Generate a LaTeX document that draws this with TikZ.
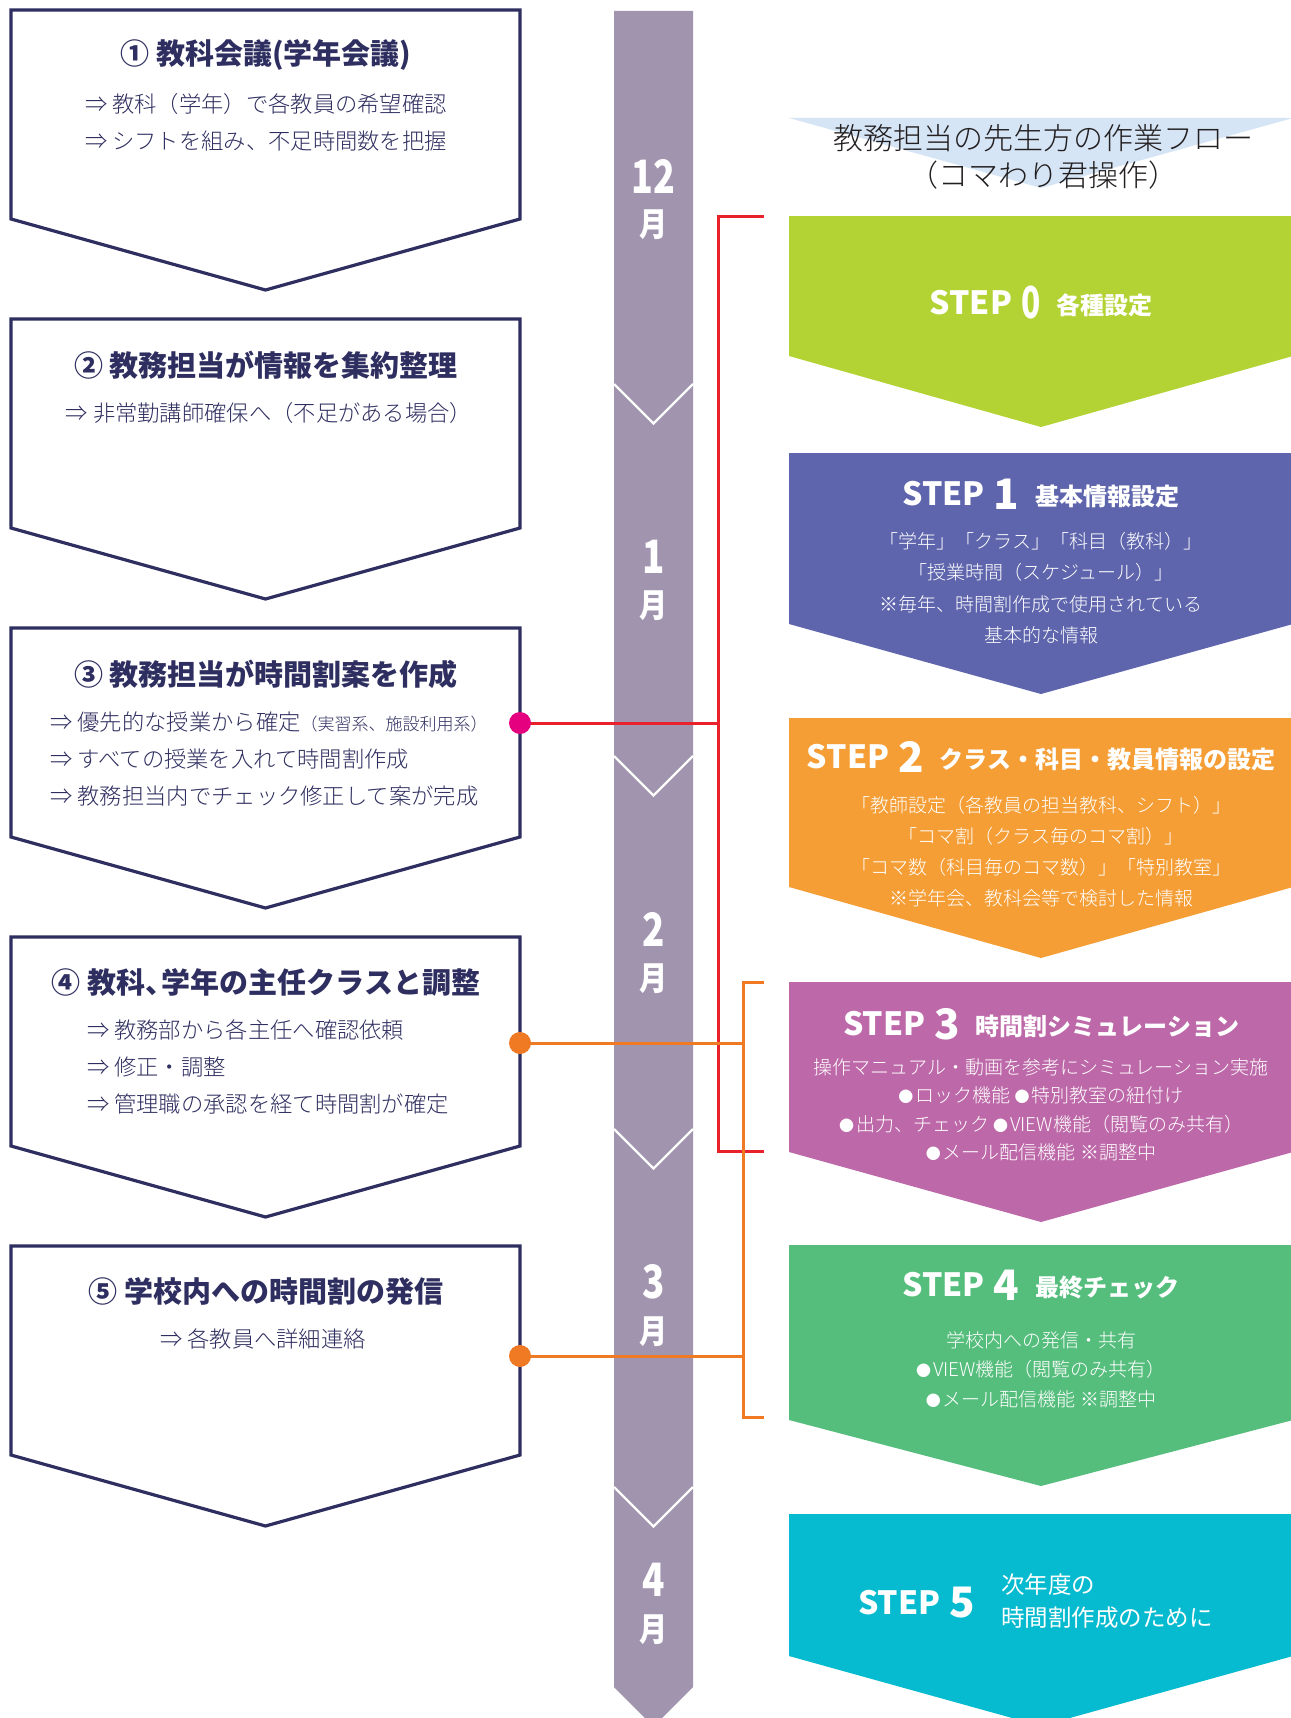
\documentclass[tikz,border=0pt]{standalone}
\usepackage{fontspec}
\setmainfont{Noto Sans CJK JP}
\newfontfamily\jlight{Noto Sans CJK JP Light}
\usepackage{graphicx}
\definecolor{navy}{HTML}{2E2E60}
\definecolor{barc}{HTML}{A194AE}
\definecolor{steplime}{HTML}{B3D334}
\definecolor{stepblue}{HTML}{5E65AD}
\definecolor{steporange}{HTML}{F59E36}
\definecolor{steppurple}{HTML}{BD68A8}
\definecolor{stepgreen}{HTML}{56BE7D}
\definecolor{stepcyan}{HTML}{06BBCF}
\definecolor{redl}{HTML}{E8212B}
\definecolor{orangel}{HTML}{F07A24}
\definecolor{magdot}{HTML}{E4007F}
\definecolor{paleblue}{HTML}{D5E5F5}
\definecolor{titletext}{HTML}{231F20}
\newcommand\JLBox[1]{\draw[lbox] (11,#1) -- (520,#1) -- (520,{#1+209}) -- (265.5,{#1+280}) -- (11,{#1+209}) -- cycle;}
\newcommand\JSBox[4]{\fill[#1] (789,#2) -- (1293,#2) -- (1293,#3) -- (1041,#4) -- (789,#3) -- cycle;}
\newcommand\JChev[1]{\draw[chev] (614,#1) -- (653.5,{#1+39.5}) -- (693,#1);}
\newcommand\stephead[2]{{\fontsize{32}{32}\selectfont STEP}\hspace{9pt}\raisebox{-4pt}{\fontsize{42}{42}\selectfont #1}\hspace{16pt}{\fontsize{24}{24}\selectfont #2}}
\newcommand\jbul{{\fontsize{15}{15}\selectfont ●}\hspace{2pt}}
\begin{document}
\begin{tikzpicture}[x=1pt,y=-1pt,
  lbox/.style={draw=navy,line width=3.2pt,fill=white,line join=miter},
  chev/.style={draw=white,line width=2.4pt},
  ltitle/.style={font=\bfseries\fontsize{29}{34}\selectfont,text=navy,inner sep=0pt},
  lbody/.style={font=\jlight\fontsize{22.3}{37}\selectfont,text=navy,align=left,inner sep=0pt},
  shead/.style={font=\bfseries,text=white,inner sep=0pt,anchor=base},
  sbody/.style={text=white,align=center,inner sep=0pt},
  mon/.style={font=\bfseries\fontsize{46}{46}\selectfont,text=white,inner sep=0pt},
  monj/.style={font=\bfseries\fontsize{33}{33}\selectfont,text=white,inner sep=0pt},
  redline/.style={draw=redl,line width=3pt},
  orline/.style={draw=orangel,line width=3pt}]
\useasboundingbox (0,0) rectangle (1290,1718);
\fill[white] (0,0) rectangle (1290,1718);
% timeline bar
\fill[barc] (614,11) -- (693,11) -- (693,1687) -- (653.5,1726.5) -- (614,1687) -- cycle;
\JChev{384}
\JChev{756}
\JChev{1129}
\JChev{1487}
\node[mon] (m12) at (653.5,176) {\scalebox{0.78}[1]{12}};
\node[monj] (mj12) at (653.5,225) {\scalebox{0.85}[1]{月}};
\node[mon] (m1) at (653.5,557) {\scalebox{0.8}[1]{1}};
\node[monj] (mj1) at (653.5,606) {\scalebox{0.85}[1]{月}};
\node[mon] (m2) at (653.5,929) {\scalebox{0.8}[1]{2}};
\node[monj] (mj2) at (653.5,979) {\scalebox{0.85}[1]{月}};
\node[mon] (m3) at (653.5,1282) {\scalebox{0.8}[1]{3}};
\node[monj] (mj3) at (653.5,1332) {\scalebox{0.85}[1]{月}};
\node[mon] (m4) at (653.5,1580) {\scalebox{0.8}[1]{4}};
\node[monj] (mj4) at (653.5,1630) {\scalebox{0.85}[1]{月}};
% title
\fill[paleblue] (789,118) -- (1293,118) -- (1041,188) -- cycle;
\node[font=\jlight\fontsize{30}{37}\selectfont,text=titletext,align=center,inner sep=0pt] (title) at (1043,156.5) {教務担当の先生方の作業フロー\\（コマわり君操作）};
% step boxes
\JSBox{steplime}{216}{356}{427}
\JSBox{stepblue}{453}{624}{694}
\JSBox{steporange}{718}{887}{958}
\JSBox{steppurple}{982}{1152}{1222}
\JSBox{stepgreen}{1245}{1420}{1486}
\JSBox{stepcyan}{1514}{1656}{1726}
% left boxes
\JLBox{10}
\JLBox{319}
\JLBox{628}
\JLBox{937}
\JLBox{1246}
% brackets and connectors
\coordinate (rT) at (718,216);
\coordinate (rTt) at (764,216);
\coordinate (rB) at (718,1151);
\coordinate (rBt) at (764,1151);
\coordinate (rJ) at (718,723);
\coordinate (d3) at (520,723);
\coordinate (oT) at (743,982);
\coordinate (oTt) at (764,982);
\coordinate (oB) at (743,1417);
\coordinate (oBt) at (764,1417);
\coordinate (oJ4) at (743,1043);
\coordinate (oJ5) at (743,1356);
\coordinate (d4) at (520,1043);
\coordinate (d5) at (520,1356);
\draw[redline] (rTt) -- (rT) -- (rB) -- (rBt);
\draw[orline] (oTt) -- (oT) -- (oB) -- (oBt);
\draw[redline] (d3) -- (rJ);
\draw[orline] (d4) -- (oJ4);
\draw[orline] (d5) -- (oJ5);
\fill[magdot] (d3) circle[radius=11pt];
\fill[orangel] (d4) circle[radius=11pt];
\fill[orangel] (d5) circle[radius=11pt];
% left texts
\node[ltitle] (t1) at (266,55) {① 教科会議(学年会議)};
\node[lbody] (b1) at (266,122.5) {⇒ 教科（学年）で各教員の希望確認\\⇒ シフトを組み、不足時間数を把握};
\node[ltitle] (t2) at (266,365) {② 教務担当が情報を集約整理};
\node[lbody] (b2) at (269,413) {⇒ 非常勤講師確保へ（不足がある場合）};
\node[ltitle] (t3) at (266,674) {③ 教務担当が時間割案を作成};
\node[lbody] (b3) at (269,759) {⇒ 優先的な授業から確定{\fontsize{17}{37}\selectfont（実習系、施設利用系）}\\⇒ すべての授業を入れて時間割作成\\⇒ 教務担当内でチェック修正して案が完成};
\node[ltitle] (t4) at (266,982) {④ 教科、\hspace{-0.45em}学年の主任クラスと調整};
\node[lbody] (b4) at (268,1067) {⇒ 教務部から各主任へ確認依頼\\⇒ 修正・調整\\⇒ 管理職の承認を経て時間割が確定};
\node[ltitle] (t5) at (266,1291) {⑤ 学校内への時間割の発信};
\node[lbody] (b5) at (263,1339) {⇒ 各教員へ詳細連絡};
% step texts
\node[shead] (h0) at (1041,314) {{\fontsize{32}{32}\selectfont STEP}\hspace{9pt}\raisebox{-4pt}{\fontsize{44}{44}\selectfont\scalebox{0.72}[1]{0}}\hspace{16pt}{\fontsize{24}{24}\selectfont 各種設定}};
\node[shead] (h1) at (1041,505) {\stephead{1}{基本情報設定}};
\node[sbody,font=\jlight\fontsize{19}{31.5}\selectfont] (s1) at (1041,588) {「学年」「クラス」「科目（教科）」\\「授業時間（スケジュール）」\\※毎年、時間割作成で使用されている\\基本的な情報};
\node[shead] (h2) at (1041,768) {\stephead{2}{クラス・科目・教員情報の設定}};
\node[sbody,font=\jlight\fontsize{19}{31}\selectfont] (s2) at (1041,851.5) {「教師設定（各教員の担当教科、シフト）」\\「コマ割（クラス毎のコマ割）」\\「コマ数（科目毎のコマ数）」「特別教室」\\※学年会、教科会等で検討した情報};
\node[shead] (h3) at (1041,1035) {\stephead{3}{時間割シミュレーション}};
\node[sbody,font=\jlight\fontsize{19}{28.5}\selectfont] (s3) at (1041,1110) {操作マニュアル・動画を参考にシミュレーション実施\\\jbul ロック機能 \jbul 特別教室の紐付け\\\jbul 出力、チェック \jbul VIEW機能（閲覧のみ共有）\\\jbul メール配信機能 ※調整中};
\node[shead] (h4) at (1041,1296) {\stephead{4}{最終チェック}};
\node[sbody,font=\jlight\fontsize{19}{29.5}\selectfont] (s4) at (1041,1369.5) {学校内への発信・共有\\\jbul VIEW機能（閲覧のみ共有）\\\jbul メール配信機能 ※調整中};
\node[shead,anchor=base west] (h5) at (858,1614) {{\fontsize{32}{32}\selectfont STEP}\hspace{9pt}\raisebox{-3pt}{\fontsize{42}{42}\selectfont 5}};
\node[font=\fontsize{23.5}{33}\selectfont,text=white,align=left,inner sep=0pt,anchor=west] (s5) at (1001,1601.5) {次年度の\\時間割作成のために};
\end{tikzpicture}
\end{document}
